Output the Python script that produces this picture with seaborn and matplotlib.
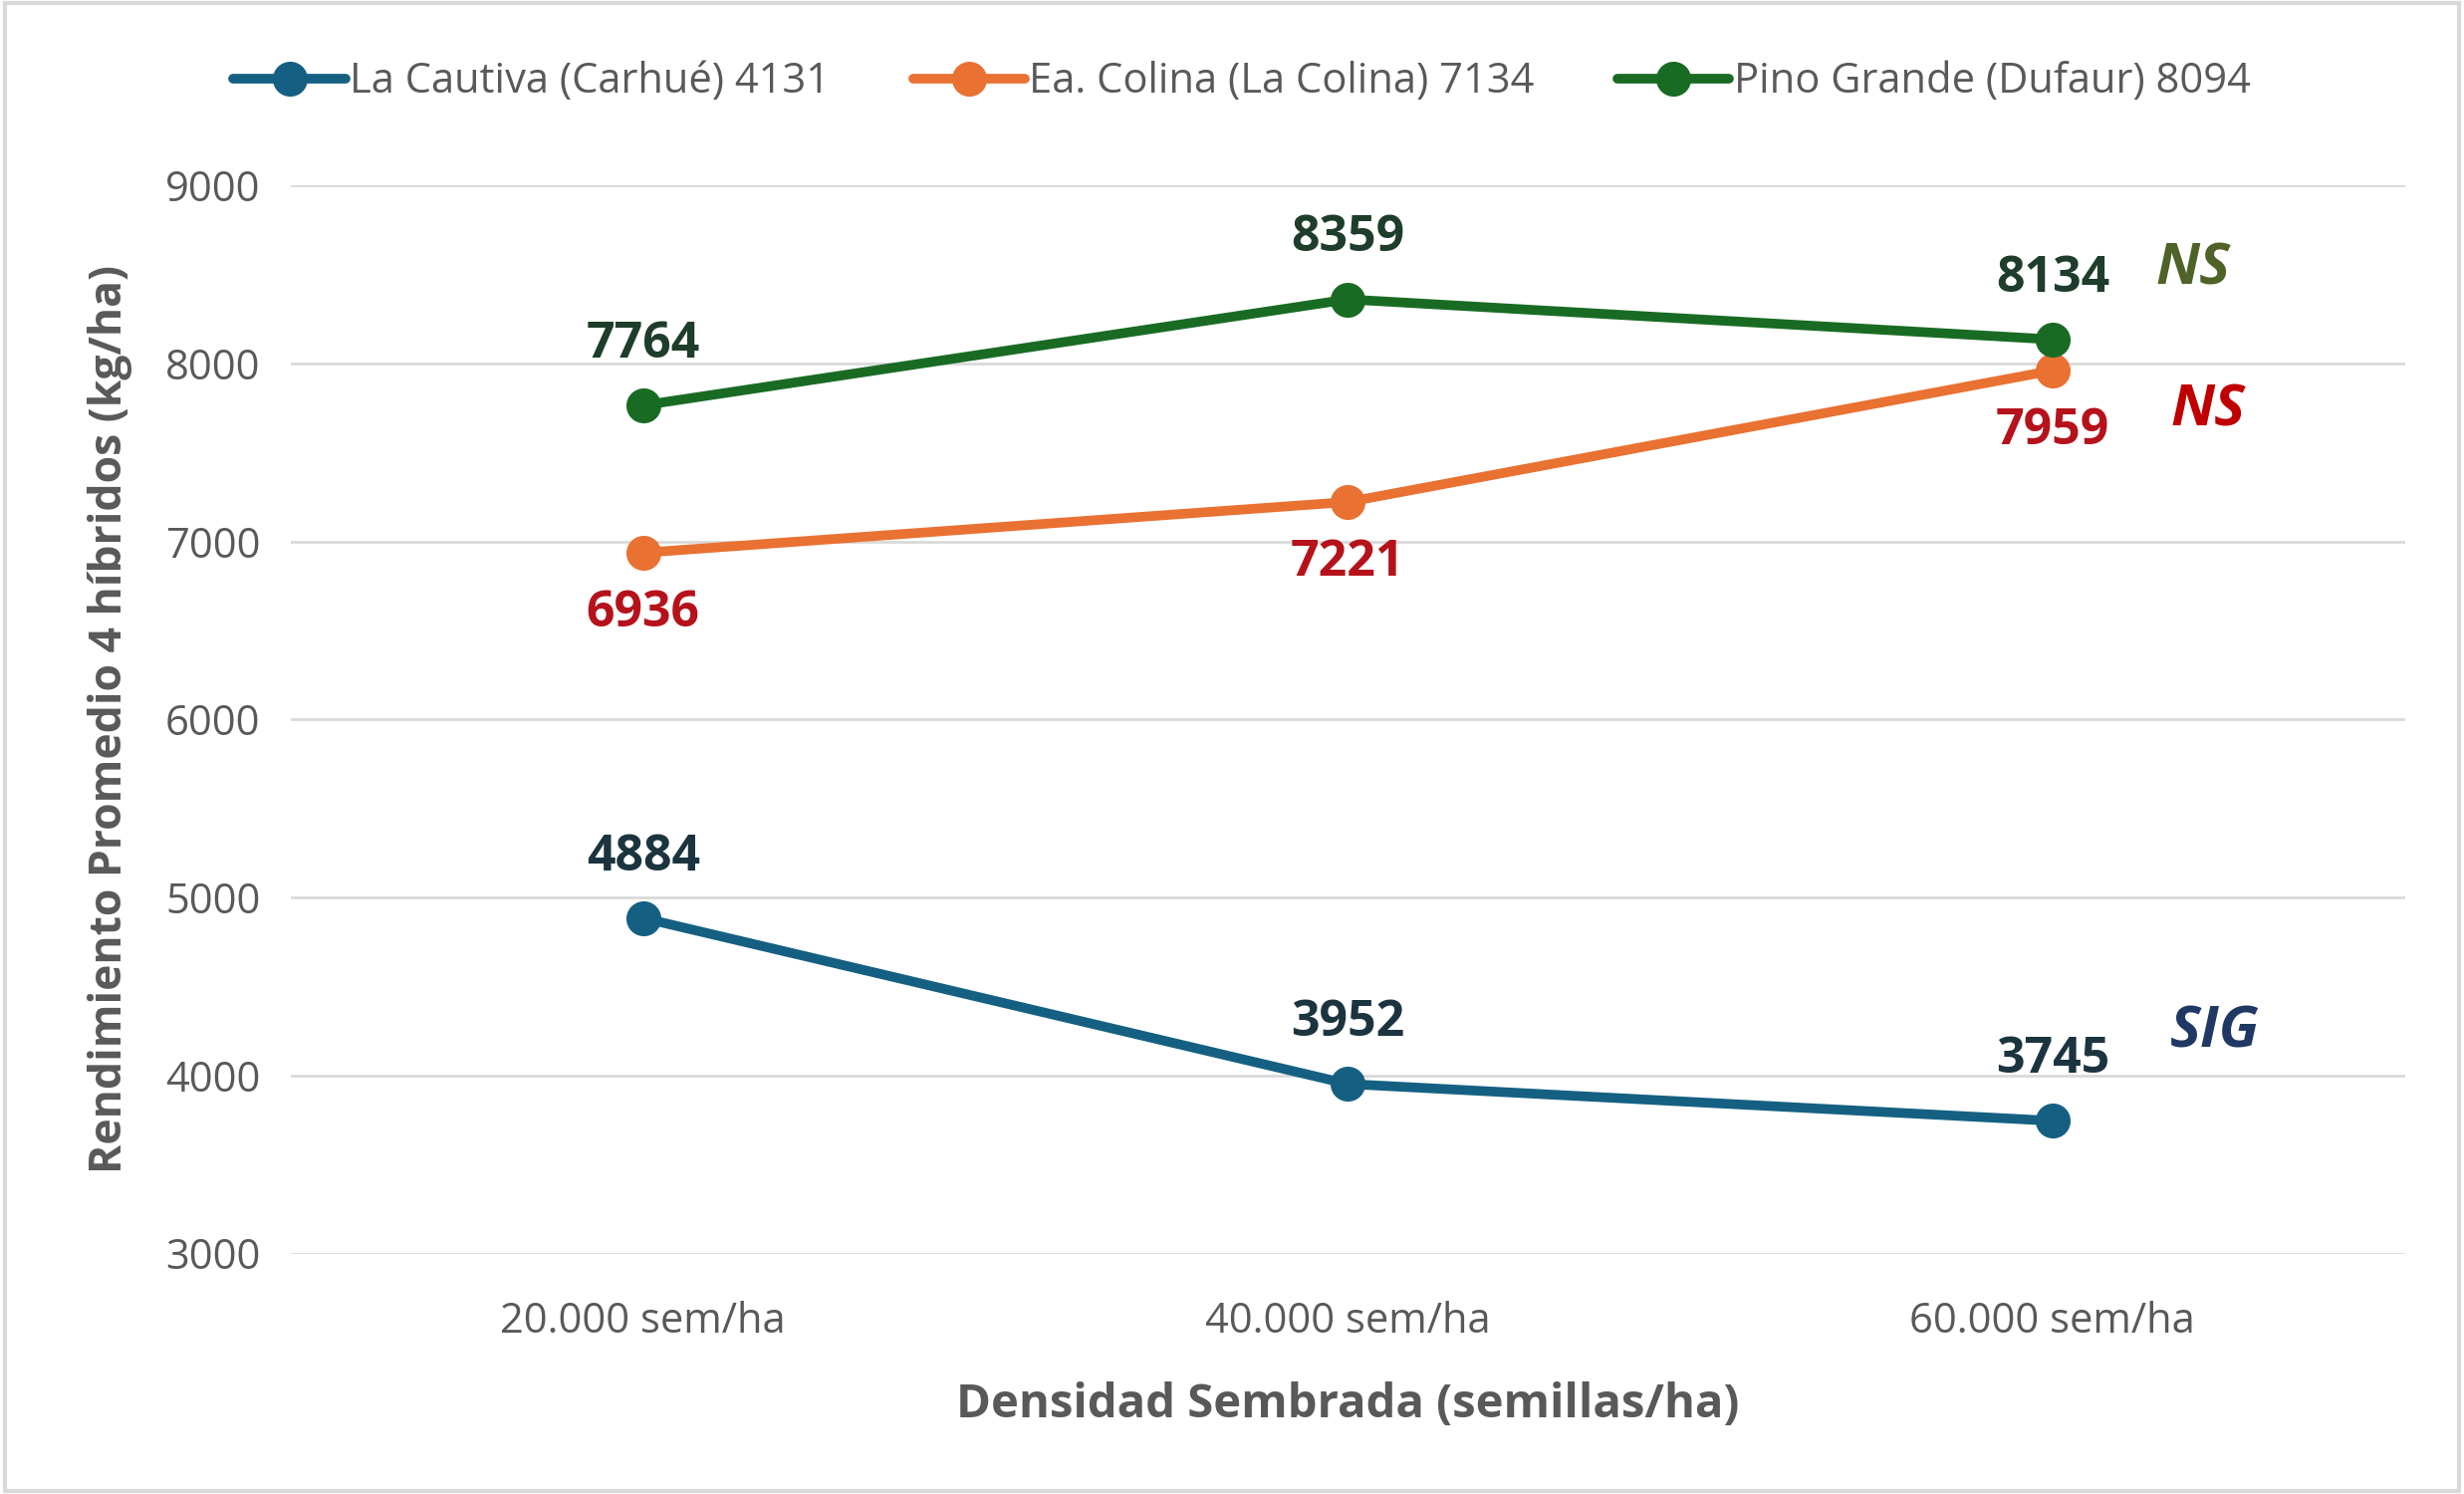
import pandas as pd
import seaborn as sns
import matplotlib.pyplot as plt
from matplotlib.patches import Rectangle

# data
densidades = ['20.000 sem/ha', '40.000 sem/ha', '60.000 sem/ha']
sitios = ['La Cautiva (Carhué) 4131', 'Ea. Colina (La Colina) 7134', 'Pino Grande (Dufaur) 8094']
la_cautiva = [4884, 3952, 3745]
ea_colina = [6936, 7221, 7959]
pino_grande = [7764, 8359, 8134]
significancia = ['SIG', 'NS', 'NS']

colores = ['#156082', '#E97132', '#196B24']
colores_etiqueta = ['#1B3440', '#B5121B', '#1E3D2A']
colores_sig = ['#1F3864', '#C00000', '#4F6228']

df = pd.DataFrame({
    'densidad': densidades * 3,
    'rendimiento': la_cautiva + ea_colina + pino_grande,
    'sitio': [s for s in sitios for _ in densidades],
})

sns.set_theme(style='white')
plt.rcParams['font.family'] = ['Open Sans', 'DejaVu Sans']

fig, ax = plt.subplots(figsize=(12.37, 7.5), dpi=200)
fig.subplots_adjust(left=0.118, right=0.976, top=0.876, bottom=0.161)

sns.pointplot(data=df, x='densidad', y='rendimiento', hue='sitio', order=densidades,
              hue_order=sitios, palette=colores, markers='o', markersize=10,
              linewidth=3.5, errorbar=None, ax=ax)

# data labels: orange below the points, the rest above
series = [la_cautiva, ea_colina, pino_grande]
for i, vals in enumerate(series):
    dy = -22 if i == 1 else 22
    for j, v in enumerate(vals):
        ax.annotate(str(v), (j, v), xytext=(0, dy), textcoords='offset points',
                    ha='center', va='center', fontsize=18, fontweight='bold',
                    color=colores_etiqueta[i])

# significance marks at the right
sig_x = [2.23, 2.22, 2.2]
sig_y = [4241, 7731, 8525]
for i, txt in enumerate(significancia):
    ax.text(sig_x[i], sig_y[i], txt, ha='center', va='center', fontsize=21,
            fontweight='bold', fontstyle='italic', color=colores_sig[i])

ax.set_ylim(3000, 9000)
ax.set_xlim(-0.5, 2.5)
ax.set_yticks(range(3000, 9001, 1000))
ax.grid(axis='y', color='#D9D9D9', linewidth=1)
ax.grid(axis='x', visible=False)
for sp in ax.spines.values():
    sp.set_visible(False)
ax.tick_params(axis='both', length=0, labelsize=15, labelcolor='#595959')
ax.tick_params(axis='x', pad=17)
ax.tick_params(axis='y', pad=11)

ax.set_xlabel('Densidad Sembrada (semillas/ha)', fontsize=17, fontweight='bold',
              color='#595959', labelpad=14)
ax.set_ylabel('Rendimiento Promedio 4 híbridos (kg/ha)', fontsize=16, fontweight='bold',
              color='#595959', labelpad=12)

handles, labels = ax.get_legend_handles_labels()
ax.legend(handles, labels, loc='center', bbox_to_anchor=(0.504, 0.945),
          bbox_transform=fig.transFigure, ncol=3, frameon=False, fontsize=15,
          handlelength=2.7, handletextpad=0.1, columnspacing=2.0, labelcolor='#595959')

fig.patches.append(Rectangle((0.002, 0.002), 0.996, 0.996, transform=fig.transFigure,
                             fill=False, edgecolor='#D9D9D9', linewidth=1.5))

fig.savefig('out.png', dpi=200)
